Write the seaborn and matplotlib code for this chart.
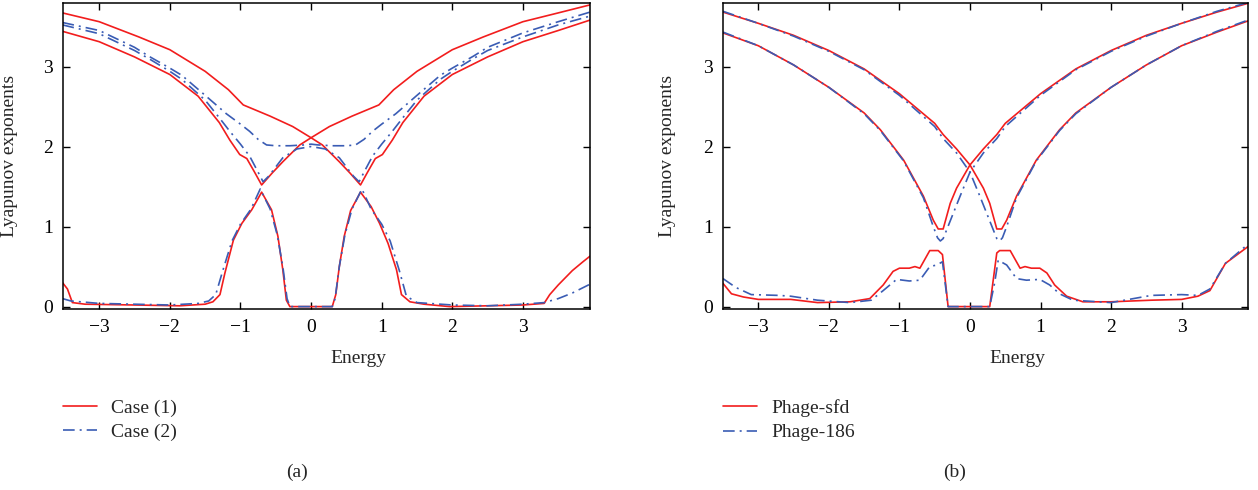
import numpy as np
import pandas as pd
import matplotlib
matplotlib.use("Agg")
import matplotlib.pyplot as plt
import seaborn as sns

# ---------------- data: panel (a) ----------------
a_red1_x = [-3.52, -3.0, -2.44, -2.0, -1.5, -1.17, -0.96, -0.58, -0.26, 0.0, 0.16, 0.4, 0.55, 0.7, 0.8, 0.91, 1.01, 1.15, 1.3, 1.6, 2.0, 2.5, 3.0, 3.5, 3.95]
a_red1_y = [3.67, 3.56, 3.37, 3.21, 2.94, 2.71, 2.52, 2.38, 2.25, 2.11, 2.02, 1.81, 1.67, 1.52, 1.68, 1.85, 1.90, 2.08, 2.30, 2.63, 2.90, 3.12, 3.31, 3.45, 3.58]
a_red2_x = [-3.52, -3.0, -2.5, -2.0, -1.6, -1.3, -1.15, -1.01, -0.91, -0.8, -0.7, -0.55, -0.4, -0.16, 0.0, 0.26, 0.58, 0.96, 1.17, 1.5, 2.0, 2.44, 3.0, 3.5, 3.95]
a_red2_y = [3.44, 3.31, 3.12, 2.90, 2.63, 2.30, 2.08, 1.90, 1.85, 1.68, 1.52, 1.67, 1.81, 2.02, 2.11, 2.25, 2.38, 2.52, 2.71, 2.94, 3.21, 3.37, 3.56, 3.67, 3.77]
a_red3_x = [-3.52, -3.45, -3.38, -3.2, -2.5, -1.86, -1.5, -1.39, -1.29, -1.22, -1.10, -0.98, -0.84, -0.70, -0.56, -0.47, -0.40, -0.35, -0.30, 0.30, 0.35, 0.40, 0.47, 0.56, 0.70, 0.85, 0.97, 1.09, 1.21, 1.28, 1.40, 1.6, 1.96, 2.5, 3.0, 3.3, 3.38, 3.5, 3.7, 3.85, 3.95]
a_red3_y = [0.30, 0.22, 0.05, 0.03, 0.02, 0.01, 0.03, 0.06, 0.15, 0.42, 0.83, 1.04, 1.21, 1.43, 1.21, 0.88, 0.46, 0.08, 0.0, 0.0, 0.15, 0.50, 0.88, 1.20, 1.43, 1.25, 1.04, 0.79, 0.46, 0.15, 0.06, 0.03, 0.0, 0.01, 0.02, 0.04, 0.15, 0.27, 0.45, 0.56, 0.63]

a_blue1_x = [-3.52, -3.0, -2.5, -2.3, -2.0, -1.83, -1.5, -1.2, -1.0, -0.87, -0.75, -0.63, -0.5, -0.3, -0.1, 0.0, 0.1, 0.3, 0.5, 0.63, 0.75, 0.87, 1.0, 1.2, 1.5, 1.83, 2.0, 2.3, 2.5, 3.0, 3.5, 3.95]
a_blue1_y = [3.55, 3.45, 3.24, 3.13, 2.98, 2.89, 2.64, 2.41, 2.28, 2.19, 2.09, 2.02, 2.01, 2.01, 2.02, 2.03, 2.02, 2.01, 2.01, 2.02, 2.09, 2.19, 2.28, 2.41, 2.64, 2.89, 2.98, 3.13, 3.24, 3.42, 3.56, 3.68]
a_blue2_x = [-3.52, -3.0, -2.5, -2.3, -2.0, -1.83, -1.5, -1.3, -1.15, -1.0, -0.87, -0.75, -0.68, -0.6, -0.4, -0.2, 0.0, 0.2, 0.4, 0.6, 0.68, 0.75, 0.87, 1.0, 1.15, 1.3, 1.5, 1.83, 2.0, 2.3, 2.5, 3.0, 3.5, 3.95]
a_blue2_y = [3.52, 3.41, 3.20, 3.10, 2.94, 2.84, 2.58, 2.36, 2.19, 2.03, 1.88, 1.68, 1.56, 1.63, 1.86, 1.97, 2.00, 1.97, 1.86, 1.63, 1.56, 1.68, 1.88, 2.03, 2.19, 2.36, 2.58, 2.84, 2.94, 3.10, 3.20, 3.37, 3.52, 3.63]
a_blue3_x = [-3.52, -3.4, -3.0, -2.5, -2.0, -1.6, -1.45, -1.35, -1.25, -1.12, -1.0, -0.85, -0.72, -0.58, -0.48, -0.40, -0.34, -0.30, 0.30, 0.34, 0.40, 0.48, 0.58, 0.72, 0.85, 1.0, 1.12, 1.25, 1.35, 1.5, 2.0, 2.5, 3.0, 3.3, 3.5, 3.7, 3.95]
a_blue3_y = [0.10, 0.07, 0.04, 0.03, 0.02, 0.04, 0.07, 0.15, 0.45, 0.82, 1.03, 1.22, 1.47, 1.22, 0.90, 0.50, 0.10, 0.0, 0.0, 0.10, 0.50, 0.90, 1.22, 1.47, 1.22, 1.03, 0.82, 0.45, 0.13, 0.05, 0.02, 0.01, 0.03, 0.05, 0.10, 0.17, 0.28]

# ---------------- data: panel (b) ----------------
b_red1_x = [-3.5, -3.0, -2.5, -2.0, -1.5, -1.0, -0.5, -0.38, -0.19, 0.0, 0.19, 0.28, 0.38, 0.45, 0.52, 0.66, 0.94, 1.27, 1.5, 2.0, 2.5, 3.0, 3.5, 3.94]
b_red1_y = [3.68, 3.54, 3.39, 3.20, 2.97, 2.66, 2.29, 2.15, 1.97, 1.77, 1.48, 1.29, 0.97, 0.97, 1.08, 1.38, 1.83, 2.21, 2.42, 2.74, 3.02, 3.26, 3.43, 3.57]
b_red2_x = [-3.5, -3.0, -2.5, -2.0, -1.5, -1.27, -0.94, -0.66, -0.52, -0.45, -0.38, -0.28, -0.19, 0.0, 0.19, 0.38, 0.5, 1.0, 1.5, 2.0, 2.5, 3.0, 3.5, 3.94]
b_red2_y = [3.42, 3.26, 3.02, 2.74, 2.42, 2.21, 1.83, 1.38, 1.08, 0.97, 0.97, 1.29, 1.48, 1.77, 1.97, 2.15, 2.29, 2.66, 2.97, 3.20, 3.39, 3.54, 3.68, 3.79]
b_red3_x = [-3.5, -3.38, -3.21, -3.0, -2.54, -2.16, -1.7, -1.42, -1.23, -1.09, -1.0, -0.86, -0.78, -0.71, -0.57, -0.45, -0.39, -0.31, 0.28, 0.38, 0.42, 0.57, 0.71, 0.78, 0.87, 0.99, 1.09, 1.2, 1.37, 1.6, 2.0, 2.57, 3.0, 3.23, 3.4, 3.62, 3.94]
b_red3_y = [0.29, 0.16, 0.12, 0.09, 0.09, 0.05, 0.06, 0.10, 0.27, 0.44, 0.48, 0.48, 0.50, 0.48, 0.70, 0.70, 0.65, 0.0, 0.0, 0.67, 0.70, 0.70, 0.48, 0.50, 0.48, 0.48, 0.42, 0.27, 0.13, 0.06, 0.06, 0.08, 0.09, 0.13, 0.20, 0.54, 0.75]

b_blue1_x = [-3.5, -3.0, -2.5, -2.0, -1.5, -1.0, -0.5, -0.38, -0.19, 0.0, 0.14, 0.33, 0.38, 0.42, 0.46, 0.52, 0.66, 0.94, 1.27, 1.5, 2.0, 2.5, 3.0, 3.5, 3.94]
b_blue1_y = [3.69, 3.54, 3.38, 3.19, 2.96, 2.64, 2.25, 2.10, 1.92, 1.68, 1.38, 0.96, 0.85, 0.82, 0.86, 1.00, 1.36, 1.82, 2.20, 2.41, 2.74, 3.02, 3.26, 3.44, 3.58]
b_blue2_x = [-3.5, -3.0, -2.5, -2.0, -1.5, -1.27, -0.94, -0.66, -0.52, -0.46, -0.42, -0.38, -0.33, -0.14, 0.0, 0.19, 0.38, 0.5, 1.0, 1.5, 2.0, 2.5, 3.0, 3.5, 3.94]
b_blue2_y = [3.43, 3.26, 3.02, 2.74, 2.41, 2.20, 1.82, 1.36, 1.00, 0.86, 0.82, 0.85, 0.96, 1.38, 1.68, 1.92, 2.10, 2.25, 2.64, 2.96, 3.19, 3.38, 3.54, 3.69, 3.80]
b_blue3_x = [-3.5, -3.32, -3.1, -2.71, -2.54, -2.16, -1.7, -1.4, -1.23, -1.04, -0.86, -0.71, -0.57, -0.47, -0.39, -0.31, 0.28, 0.35, 0.40, 0.52, 0.66, 0.80, 0.99, 1.13, 1.27, 1.46, 2.0, 2.57, 3.0, 3.23, 3.4, 3.62, 3.94]
b_blue3_y = [0.35, 0.24, 0.15, 0.14, 0.13, 0.08, 0.05, 0.08, 0.20, 0.34, 0.32, 0.33, 0.50, 0.52, 0.56, 0.0, 0.0, 0.30, 0.58, 0.52, 0.35, 0.33, 0.34, 0.27, 0.16, 0.08, 0.05, 0.14, 0.15, 0.14, 0.22, 0.54, 0.78]

labels_a = ["Case (1)", "Case (2)"]
labels_b = ["Phage-sfd", "Phage-186"]
x_ticks = [-3, -2, -1, 0, 1, 2, 3]
y_ticks = [0, 1, 2, 3]
panel_tags = ["(a)", "(b)"]

# ---------------- style ----------------
sns.set_style("ticks")
plt.rcParams["font.family"] = ["Liberation Serif", "DejaVu Serif"]
plt.rcParams["axes.unicode_minus"] = True

RED = "#f21d1d"
BLUE = "#3a5cb4"
DASH = (0, (7, 3, 1.2, 3))
FS = 14

fig = plt.figure(figsize=(12.58, 4.90), dpi=100)
W, H = 1258, 490
ax_a = fig.add_axes([62.5 / W, 1 - 309 / H, (590 - 62.5) / W, (309 - 3.3) / H])
ax_b = fig.add_axes([723 / W, 1 - 309 / H, (1248 - 723) / W, (309 - 3.3) / H])

def draw(ax, reds, blues, labels, xlim, ylabel_x):
    for i, (x, y) in enumerate(reds):
        sns.lineplot(x=x, y=y, ax=ax, color=RED, lw=1.2, sort=False, estimator=None,
                     label=labels[0] if i == 0 else None, legend=False)
    for i, (x, y) in enumerate(blues):
        sns.lineplot(x=x, y=y, ax=ax, color=BLUE, lw=1.2, sort=False, estimator=None,
                     linestyle=DASH, label=labels[1] if i == 0 else None, legend=False)
    ax.set_xlim(*xlim)
    ax.set_ylim(-0.03, 3.79)
    ax.set_xticks(x_ticks)
    ax.set_yticks(y_ticks)
    ax.tick_params(direction="in", top=True, right=True, length=5, width=1.0,
                   labelsize=FS, pad=7, colors="black")
    for s in ax.spines.values():
        s.set_color("black")
        s.set_linewidth(1.1)
    ax.set_xlabel("Energy", fontsize=FS)
    ax.xaxis.set_label_coords(0.56, -0.135)
    ax.set_ylabel("Lyapunov exponents", fontsize=FS)
    ax.yaxis.set_label_coords(ylabel_x, 0.5)
    handles = [l for l in ax.get_lines() if not l.get_label().startswith("_")]
    ax.legend(handles=handles, labels=labels, loc="upper left", bbox_to_anchor=(0.0, -0.295),
              frameon=False, fontsize=FS, handlelength=1.75, handletextpad=0.75,
              labelspacing=0.35, borderpad=0, borderaxespad=0)

draw(ax_a, [(a_red1_x, a_red1_y), (a_red2_x, a_red2_y), (a_red3_x, a_red3_y)],
     [(a_blue1_x, a_blue1_y), (a_blue2_x, a_blue2_y), (a_blue3_x, a_blue3_y)],
     labels_a, (-3.52, 3.95), -0.085)
draw(ax_b, [(b_red1_x, b_red1_y), (b_red2_x, b_red2_y), (b_red3_x, b_red3_y)],
     [(b_blue1_x, b_blue1_y), (b_blue2_x, b_blue2_y), (b_blue3_x, b_blue3_y)],
     labels_b, (-3.5, 3.94), -0.089)

fig.text(297 / W, 1 - 472 / H, panel_tags[0], ha="center", va="center", fontsize=FS)
fig.text(955 / W, 1 - 472 / H, panel_tags[1], ha="center", va="center", fontsize=FS)

fig.savefig("out.png", dpi=100)
